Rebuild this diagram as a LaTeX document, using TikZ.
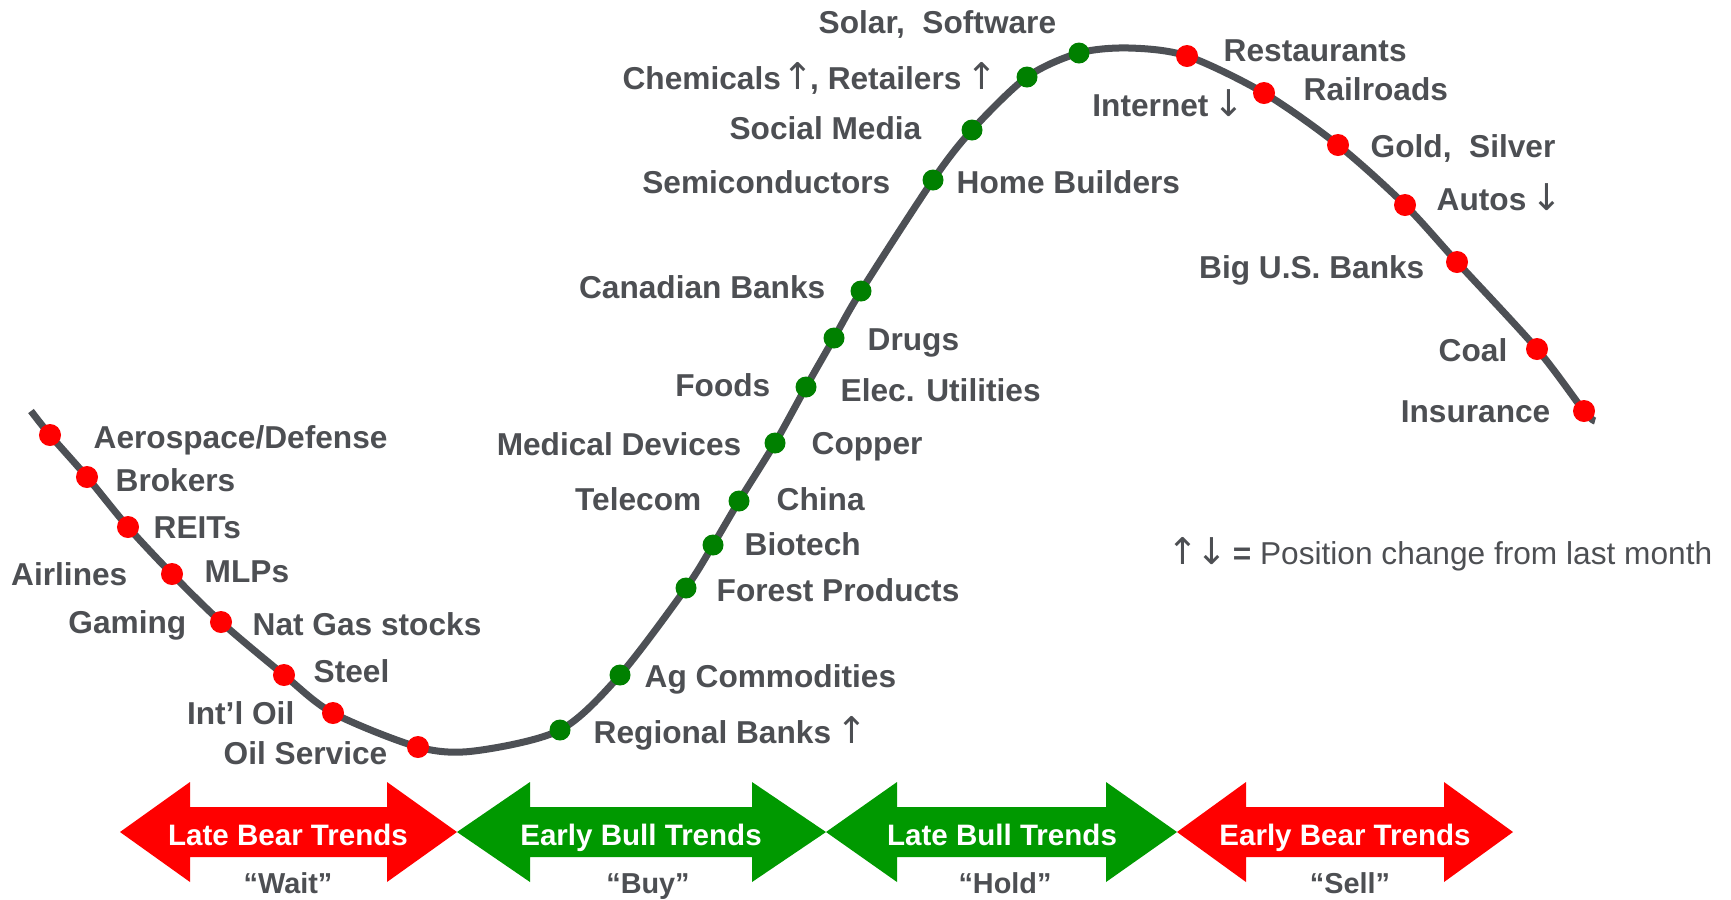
\documentclass[tikz,border=0pt]{standalone}
\usepackage{fontspec}
\setmainfont{Liberation Sans}
\newfontfamily\arrowfont{DejaVu Sans}
\usepackage{xcolor}
\usepackage{tikz}
\definecolor{curvegray}{RGB}{77,80,85}
\definecolor{textgray}{RGB}{77,79,83}
\definecolor{bullgreen}{RGB}{0,153,0}
\definecolor{dotgreen}{RGB}{0,128,0}
\definecolor{bearred}{RGB}{255,0,0}
\newcommand{\upmark}{\makebox[2.4mm][c]{\arrowfont\mdseries\fontsize{10.5}{11}\selectfont ↑}}
\newcommand{\downmark}{\makebox[2.4mm][c]{\arrowfont\mdseries\fontsize{10.5}{11}\selectfont ↓}}

\begin{document}
\begin{tikzpicture}[x=0.01cm, y=-0.01cm,
  lbl/.style={font=\fontsize{9}{11}\selectfont\bfseries, text=textgray, inner sep=0pt, text height=2.3mm, text depth=0pt},
  trend/.style={font=\fontsize{8.4}{10}\selectfont\bfseries, text=white, inner sep=0pt, text height=2.2mm, text depth=0pt},
  advice/.style={font=\fontsize{8.2}{10}\selectfont\bfseries, text=textgray, inner sep=0pt, text height=2.2mm, text depth=0pt},
  curve/.style={draw=curvegray, line width=0.7mm},
  reddot/.style={fill=bearred},
  greendot/.style={fill=dotgreen}]
\useasboundingbox (0,0) rectangle (1731,899);

\coordinate (start) at (31,411);
\coordinate (aero) at (50,435);
\coordinate (brok) at (87,477);
\coordinate (reit) at (128,527);
\coordinate (mlp) at (172,574);
\coordinate (gas) at (221,622);
\coordinate (steel) at (284,675);
\coordinate (intl) at (333,713);
\coordinate (oilsv) at (418,747);
\coordinate (low) at (474,751);
\coordinate (regbk) at (560,730);
\coordinate (ag) at (620,675);
\coordinate (forest) at (686,588);
\coordinate (bio) at (713,545);
\coordinate (china) at (739,501);
\coordinate (copper) at (775,443);
\coordinate (foods) at (806,387);
\coordinate (drugs) at (834,338);
\coordinate (canbk) at (861,291);
\coordinate (semi) at (933,180);
\coordinate (social) at (972,130);
\coordinate (chem) at (1027,77);
\coordinate (solar) at (1079,53);
\coordinate (peak) at (1129,48);
\coordinate (rest) at (1187,56);
\coordinate (rail) at (1264,93);
\coordinate (gold) at (1338,145);
\coordinate (autos) at (1405,205);
\coordinate (bigbk) at (1457,262);
\coordinate (coal) at (1537,349);
\coordinate (insur) at (1584,411);
\coordinate (finish) at (1595,421);

\draw[curve] plot[smooth, tension=0.5] coordinates {(start) (aero) (brok) (reit) (mlp) (gas) (steel) (intl) (oilsv) (low) (regbk) (ag) (forest) (bio) (china) (copper) (foods) (drugs) (canbk) (semi) (social) (chem) (solar) (peak) (rest) (rail) (gold) (autos) (bigbk) (coal) (insur) (finish)};

\fill[reddot] (aero) circle (1.1mm);
\fill[reddot] (brok) circle (1.1mm);
\fill[reddot] (reit) circle (1.1mm);
\fill[reddot] (mlp) circle (1.1mm);
\fill[reddot] (gas) circle (1.1mm);
\fill[reddot] (steel) circle (1.1mm);
\fill[reddot] (intl) circle (1.1mm);
\fill[reddot] (oilsv) circle (1.1mm);
\fill[greendot] (regbk) circle (1.05mm);
\fill[greendot] (ag) circle (1.05mm);
\fill[greendot] (forest) circle (1.05mm);
\fill[greendot] (bio) circle (1.05mm);
\fill[greendot] (china) circle (1.05mm);
\fill[greendot] (copper) circle (1.05mm);
\fill[greendot] (foods) circle (1.05mm);
\fill[greendot] (drugs) circle (1.05mm);
\fill[greendot] (canbk) circle (1.05mm);
\fill[greendot] (semi) circle (1.05mm);
\fill[greendot] (social) circle (1.05mm);
\fill[greendot] (chem) circle (1.05mm);
\fill[greendot] (solar) circle (1.05mm);
\fill[reddot] (rest) circle (1.1mm);
\fill[reddot] (rail) circle (1.1mm);
\fill[reddot] (gold) circle (1.1mm);
\fill[reddot] (autos) circle (1.1mm);
\fill[reddot] (bigbk) circle (1.1mm);
\fill[reddot] (coal) circle (1.1mm);
\fill[reddot] (insur) circle (1.1mm);

\node[lbl, anchor=west] (aerolbl) at (93,437) {Aerospace/Defense};
\node[lbl, anchor=west] (broklbl) at (115,480) {Brokers};
\node[lbl, anchor=west] (reitlbl) at (153,527) {REITs};
\node[lbl, anchor=east] (airlbl) at (128,574) {Airlines};
\node[lbl, anchor=west] (mlplbl) at (204,571) {MLPs};
\node[lbl, anchor=east] (gamelbl) at (187,622) {Gaming};
\node[lbl, anchor=west] (gaslbl) at (252,624) {Nat Gas stocks};
\node[lbl, anchor=west] (steellbl) at (313,671) {Steel};
\node[lbl, anchor=east] (intllbl) at (295,713) {Int’l Oil};
\node[lbl, anchor=east] (oilsvlbl) at (388,753) {Oil Service};

\node[lbl, anchor=west] (regbklbl) at (593,732) {Regional Banks \upmark};
\node[lbl, anchor=west] (aglbl) at (644,676) {Ag Commodities};
\node[lbl, anchor=west] (forestlbl) at (716,590) {Forest Products};
\node[lbl, anchor=west] (biolbl) at (744,544) {Biotech};
\node[lbl, anchor=west] (chinalbl) at (776,499) {China};
\node[lbl, anchor=east] (tellbl) at (702,499) {Telecom};
\node[lbl, anchor=west] (copperlbl) at (811,443) {Copper};
\node[lbl, anchor=east] (medlbl) at (742,444) {Medical Devices};
\node[lbl, anchor=west] (eleclbl) at (840,390) {Elec. Utilities};
\node[lbl, anchor=east] (foodslbl) at (771,385) {Foods};
\node[lbl, anchor=west] (drugslbl) at (867,339) {Drugs};
\node[lbl, anchor=east] (canbklbl) at (826,287) {Canadian Banks};
\node[lbl, anchor=east] (semilbl) at (891,182) {Semiconductors};
\node[lbl, anchor=west] (homelbl) at (956,182) {Home Builders};
\node[lbl, anchor=east] (sociallbl) at (922,128) {Social Media};
\node[lbl, anchor=east] (chemlbl) at (995,78) {Chemicals\,\upmark, Retailers \upmark};
\node[lbl, anchor=west] (solarlbl) at (818,22) {Solar,\ \ Software};

\node[lbl, anchor=west] (restlbl) at (1223,50) {Restaurants};
\node[lbl, anchor=east] (netlbl) at (1242,105) {Internet \downmark};
\node[lbl, anchor=west] (raillbl) at (1303,89) {Railroads};
\node[lbl, anchor=west] (goldlbl) at (1370,146) {Gold,\ \ Silver};
\node[lbl, anchor=west] (autoslbl) at (1436,199) {Autos \downmark};
\node[lbl, anchor=east] (bigbklbl) at (1425,267) {Big U.S. Banks};
\node[lbl, anchor=east] (coallbl) at (1508,350) {Coal};
\node[lbl, anchor=east] (insurlbl) at (1551,411) {Insurance};

\node[lbl, font=\fontsize{9}{11}\selectfont, anchor=west] (legend) at (1170,553) {\upmark\,\downmark\ \textbf{=} Position change from last month};

\fill[bearred] (120,832) -- (190,782) -- (190,807) -- (387,807) -- (387,782) -- (457,832) -- (387,882) -- (387,857) -- (190,857) -- (190,882) -- cycle;
\fill[bullgreen] (457,832) -- (530,782) -- (530,807) -- (752,807) -- (752,782) -- (826,832) -- (752,882) -- (752,857) -- (530,857) -- (530,882) -- cycle;
\fill[bullgreen] (826,832) -- (897,782) -- (897,807) -- (1106,807) -- (1106,782) -- (1177,832) -- (1106,882) -- (1106,857) -- (897,857) -- (897,882) -- cycle;
\fill[bearred] (1177,832) -- (1246,782) -- (1246,807) -- (1444,807) -- (1444,782) -- (1513,832) -- (1444,882) -- (1444,857) -- (1246,857) -- (1246,882) -- cycle;

\node[trend] (latebear) at (288,834) {Late Bear Trends};
\node[trend] (earlybull) at (641,834) {Early Bull Trends};
\node[trend] (latebull) at (1002,834) {Late Bull Trends};
\node[trend] (earlybear) at (1345,834) {Early Bear Trends};
\node[advice] (wait) at (288,882) {“Wait”};
\node[advice] (buy) at (648,882) {“Buy”};
\node[advice] (hold) at (1005,882) {“Hold”};
\node[advice] (sell) at (1350,882) {“Sell”};
\end{tikzpicture}
\end{document}
